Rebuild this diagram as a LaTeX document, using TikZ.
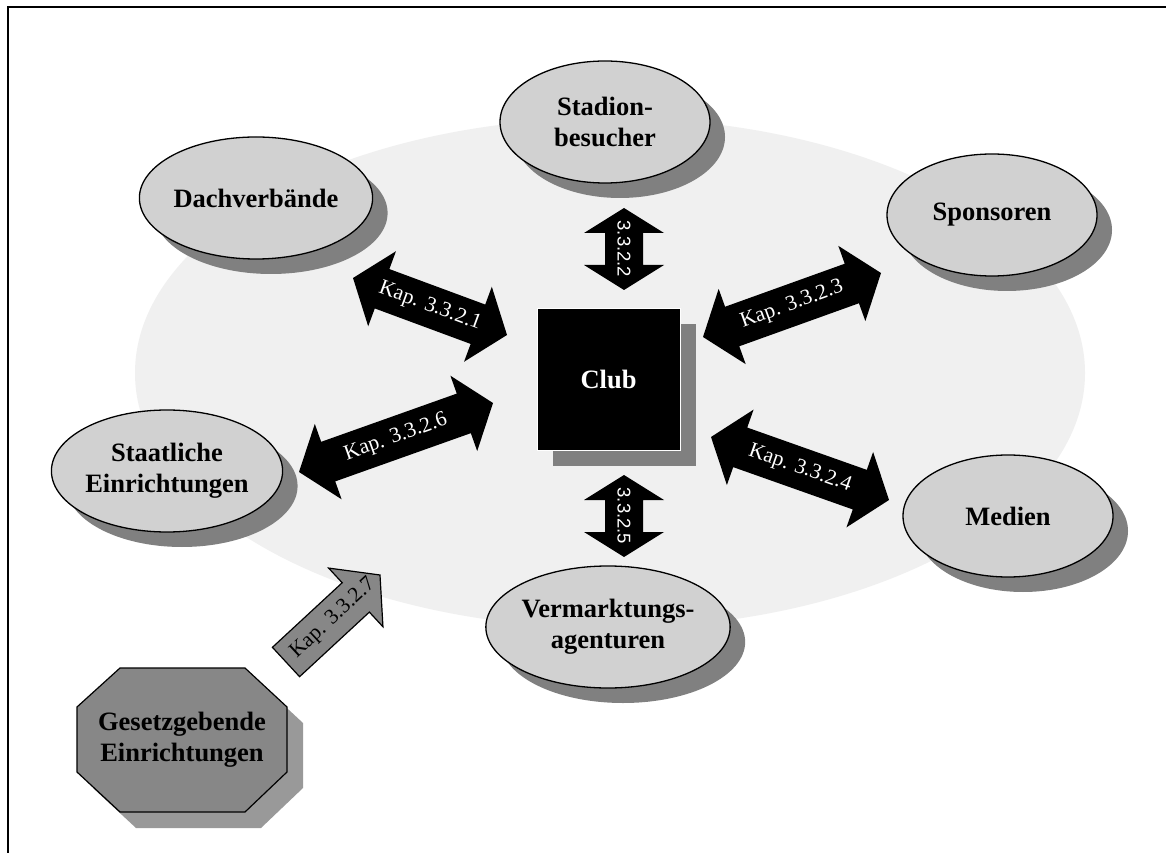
\documentclass[tikz,border=0pt]{standalone}
\usepackage{fontspec}
\setmainfont{Liberation Serif}
\setsansfont{Liberation Sans}
\usetikzlibrary{calc,shapes.geometric,shadows}

\definecolor{fieldfill}{gray}{0.94}
\definecolor{partyfill}{gray}{0.82}
\definecolor{shadowfill}{gray}{0.5}
\definecolor{lawfill}{gray}{0.53}
\definecolor{lawshadow}{gray}{0.6}

\tikzset{
  party/.style={ellipse, draw=black, line width=1.3pt, fill=partyfill,
    minimum width=210pt, minimum height=122pt, inner sep=0pt, align=center,
    font=\fontsize{26.5}{31}\selectfont\bfseries,
    general shadow={fill=shadowfill, shadow xshift=15pt, shadow yshift=-15pt}},
  clubbox/.style={draw=white, line width=0.8pt, fill=black, text=white,
    minimum width=143pt, minimum height=142pt,
    font=\fontsize{26.5}{31}\selectfont\bfseries,
    general shadow={fill=shadowfill, shadow xshift=16pt, shadow yshift=-16pt}},
  lawtext/.style={align=center, font=\fontsize{26.5}{31}\selectfont\bfseries},
  kaplabel/.style={font=\fontsize{21.5}{24}\selectfont, text=white, inner sep=0pt, sloped},
  vlabel/.style={font=\sffamily\fontsize{18.5}{20}\selectfont, text=white, inner sep=0pt, rotate=-90},
  relarrow/.style={fill=black},
  lawarrow/.style={fill=lawfill, draw=black, line width=1.2pt, line join=miter},
}

% double-headed block arrow between two named tips
% #1,#2 tips, #3 head length, #4 half shaft width, #5 half head width
\newcommand\relationarrow[5]{%
  \fill[relarrow] (#1)
    -- ($(#1)!#3!(#2)!#5!90:(#2)$)
    -- ($(#1)!#3!(#2)!#4!90:(#2)$)
    -- ($(#2)!#3!(#1)!#4!-90:(#1)$)
    -- ($(#2)!#3!(#1)!#5!-90:(#1)$)
    -- (#2)
    -- ($(#2)!#3!(#1)!#5!90:(#1)$)
    -- ($(#2)!#3!(#1)!#4!90:(#1)$)
    -- ($(#1)!#3!(#2)!#4!-90:(#2)$)
    -- ($(#1)!#3!(#2)!#5!-90:(#2)$)
    -- cycle;}

\begin{document}
\begin{tikzpicture}[x=1pt, y=1pt]
\useasboundingbox (0,0) rectangle (1166,852);
\fill[white] (0,0) rectangle (1166,852);

% frame
\draw[line width=2.5pt] (8,-3) -- (8,845) -- (1170,845);

% club environment
\fill[fieldfill] (610,479) ellipse [x radius=475, y radius=255];

% stakeholders
\node[party] (stadion) at (605,730) {Stadion-\\besucher};
\node[party] (dach)    at (256,654) {Dachverbände};
\node[party] (spons)   at (992,637) {Sponsoren};
\node[party] (staat)   at (167,381) {Staatliche\\Einrichtungen};
\node[party] (medien)  at (1008,336) {Medien};
\node[party] (verm)    at (608,225) {Vermarktungs-\\agenturen};

% club
\node[clubbox] (club) at (608.5,473) {Club};

% legislative bodies
\fill[lawshadow, shift={(16,-16)}]
  (120,184) -- (245,184) -- (287,145) -- (287,80) -- (245,40) -- (120,40) -- (77,80) -- (77,145) -- cycle;
\draw[fill=lawfill, line width=1.2pt]
  (120,184) -- (245,184) -- (287,145) -- (287,80) -- (245,40) -- (120,40) -- (77,80) -- (77,145) -- cycle;
\node[lawtext] (law) at (182,112) {Gesetzgebende\\Einrichtungen};

% arrow tips
\coordinate (a1s) at (353,574); \coordinate (a1e) at (507,517);
\coordinate (a2s) at (624,644); \coordinate (a2e) at (624,562);
\coordinate (a3s) at (703,515); \coordinate (a3e) at (881,579);
\coordinate (a4s) at (711,415); \coordinate (a4e) at (889,352);
\coordinate (a5s) at (624,377); \coordinate (a5e) at (624,295);
\coordinate (a6s) at (299,380); \coordinate (a6e) at (493,449);
\coordinate (a7s) at (286,190); \coordinate (a7e) at (380,277);

\relationarrow{a1s}{a1e}{31pt}{21pt}{40pt}
\relationarrow{a2s}{a2e}{25pt}{19pt}{40pt}
\relationarrow{a3s}{a3e}{31pt}{21pt}{40pt}
\relationarrow{a4s}{a4e}{31pt}{21pt}{40pt}
\relationarrow{a5s}{a5e}{25pt}{19pt}{40pt}
\relationarrow{a6s}{a6e}{31pt}{21pt}{40pt}

% single arrow from the legislative bodies
\draw[lawarrow] ($(a7s)!20pt!90:(a7e)$)
  -- ($(a7e)!33pt!(a7s)!20pt!-90:(a7s)$)
  -- ($(a7e)!33pt!(a7s)!40pt!-90:(a7s)$)
  -- (a7e)
  -- ($(a7e)!33pt!(a7s)!40pt!90:(a7s)$)
  -- ($(a7e)!33pt!(a7s)!20pt!90:(a7s)$)
  -- ($(a7s)!20pt!-90:(a7e)$)
  -- cycle;

% arrow labels
\path (a1s) -- node[kaplabel] (k1) {Kap. 3.3.2.1} (a1e);
\path (a2s) -- node[vlabel] (k2) {3.3.2.2} (a2e);
\path (a3s) -- node[kaplabel] (k3) {Kap. 3.3.2.3} (a3e);
\path (a4s) -- node[kaplabel] (k4) {Kap. 3.3.2.4} (a4e);
\path (a5s) -- node[vlabel] (k5) {3.3.2.5} (a5e);
\path (a6s) -- node[kaplabel] (k6) {Kap. 3.3.2.6} (a6e);
\path (a7s) -- node[kaplabel, text=black] (k7) {Kap. 3.3.2.7} (a7e);
\end{tikzpicture}
\end{document}
